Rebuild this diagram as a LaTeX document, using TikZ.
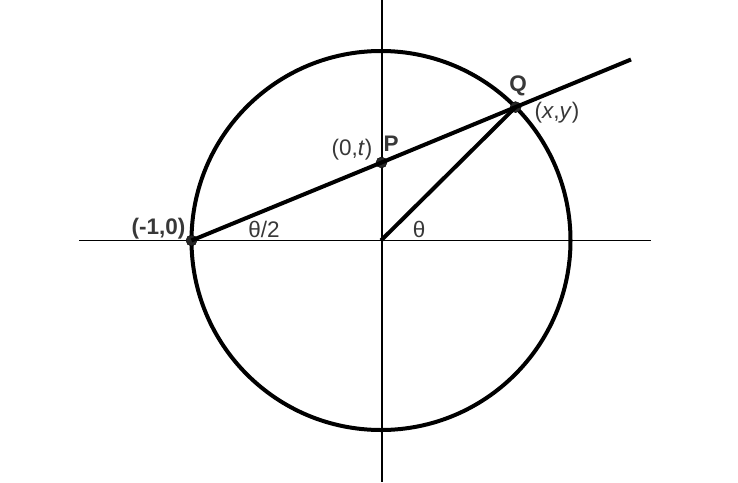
\documentclass[tikz,border=0pt]{standalone}
\usepackage{fontspec}
\setmainfont{Liberation Sans}
\begin{document}
\begin{tikzpicture}[x=1pt,y=-1pt,
  axis/.style={line width=1.1pt, black},
  heavy/.style={line width=4pt, black},
  dot/.style={circle, fill=black!85, draw=black, inner sep=0pt, minimum size=11pt},
  lbl/.style={text=black!78, font=\fontsize{22.5}{22.5}\selectfont, inner sep=0pt},
  blbl/.style={lbl, font=\fontsize{22.5}{22.5}\selectfont\bfseries}]
\useasboundingbox (0,0) rectangle (738,482);
\fill[white] (0,0) rectangle (738,482);
% axes
\coordinate (XL) at (79,240.5);
\coordinate (XR) at (651,240.5);
\coordinate (YT) at (382,0);
\coordinate (YB) at (382,482);
\draw[axis] (XL) -- (XR);
\draw[axis] (YT) -- (YB);
% circle
\coordinate (O) at (381,240.5);
\draw[line width=4pt] (O) circle[radius=189.5pt];
% points
\coordinate (E) at (631,59.5);
\node[dot] (A) at (191.5,240.5) {};
\node[dot] (P) at (381.5,162.5) {};
\node[dot] (Q) at (515.6,107.1) {};
\draw[heavy] (A.center) -- (P.center) -- (Q.center) -- (E);
\draw[heavy] (O) -- (Q.center);
% labels
\node[blbl] (la) at (158.5,229) {(-1,0)};
\node[lbl] (lh) at (264,229) {θ/2};
\node[lbl] (lt) at (419,229) {θ};
\node[lbl] (lp0) at (352,150) {(0,\textit{t})};
\node[blbl] (lp) at (391,144) {P};
\node[blbl] (lq) at (518,86) {Q};
\node[lbl] (lxy) at (557,113) {(\textit{x},\textit{y})};
\end{tikzpicture}
\end{document}
